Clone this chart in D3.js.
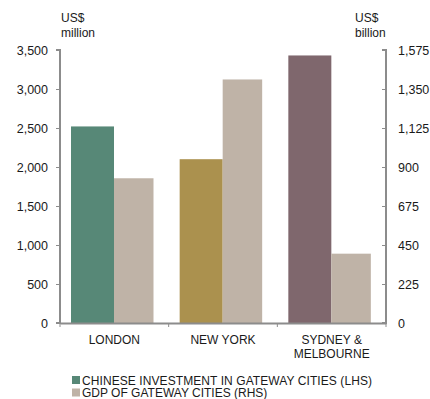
<!DOCTYPE html>
<html>
<head>
<meta charset="utf-8">
<script src="https://cdn.jsdelivr.net/npm/d3@7"></script>
<style>
  body { margin: 0; background: #fff; }
  text { font-family: "Liberation Sans", Arial, sans-serif; fill: #1a1a1a; }
</style>
</head>
<body>
<div id="chart"></div>
<script>
// data
var cities = ['LONDON', 'NEW YORK', 'SYDNEY & MELBOURNE'];
var investment = [2520, 2100, 3430];   // US$ million (LHS)
var gdp = [835, 1405, 400];            // US$ billion (RHS)
var leftTicks = [0, 500, 1000, 1500, 2000, 2500, 3000, 3500];
var rightTicks = [0, 225, 450, 675, 900, 1125, 1350, 1575];
var investColors = ['#578877', '#ab914e', '#7f676d'];
var gdpColor = '#bfb3a7';

var width = 430, height = 399;
var plotLeft = 60, plotRight = 386, plotTop = 50, plotBottom = 323;

var svg = d3.select('#chart').append('svg')
  .attr('width', width)
  .attr('height', height);

var xScale = d3.scaleBand().domain(cities).range([plotLeft, plotRight]);
var yLeft = d3.scaleLinear().domain([0, 3500]).range([plotBottom, plotTop]);
var yRight = d3.scaleLinear().domain([0, 1575]).range([plotBottom, plotTop]);

var fmt = d3.format(',');

// bars
svg.selectAll('rect.inv')
  .data(cities)
  .enter()
  .append('rect')
  .attr('class', 'inv')
  .attr('x', function (d) { return xScale(d) + 11; })
  .attr('y', function (d, i) { return yLeft(investment[i]); })
  .attr('width', 43)
  .attr('height', function (d, i) { return plotBottom - yLeft(investment[i]); })
  .style('fill', function (d, i) { return investColors[i]; });

svg.selectAll('rect.gdp')
  .data(cities)
  .enter()
  .append('rect')
  .attr('class', 'gdp')
  .attr('x', function (d) { return xScale(d) + 54; })
  .attr('y', function (d, i) { return yRight(gdp[i]); })
  .attr('width', 39.5)
  .attr('height', function (d, i) { return plotBottom - yRight(gdp[i]); })
  .style('fill', gdpColor);

// axes
var axisColor = '#8c8c8c';

var leftAxis = svg.append('g')
  .attr('transform', 'translate(' + plotLeft + ',0)')
  .call(d3.axisLeft(yLeft).tickValues(leftTicks).tickFormat(fmt).tickSize(4).tickPadding(8));

var rightAxis = svg.append('g')
  .attr('transform', 'translate(' + plotRight + ',0)')
  .call(d3.axisRight(yRight).tickValues(rightTicks).tickFormat(fmt).tickSize(4).tickPadding(8));

var xAxis = svg.append('g')
  .attr('transform', 'translate(0,' + plotBottom + ')')
  .call(d3.axisBottom(xScale).tickSize(0).tickFormat(''));

[leftAxis, rightAxis, xAxis].forEach(function (g) {
  g.select('.domain').style('stroke', axisColor).style('stroke-width', 2);
  g.selectAll('.tick line').style('stroke', axisColor);
  g.selectAll('.tick text').style('font-size', '12.5px').style('fill', '#1a1a1a')
    .style('font-family', '"Liberation Sans", Arial, sans-serif');
});
leftAxis.select('.domain').attr('d', 'M-4,' + plotTop + 'H0V' + plotBottom + 'H-4');
rightAxis.select('.domain').attr('d', 'M-4,' + plotTop + 'H0V' + plotBottom + 'H-4');
rightAxis.selectAll('.tick line').attr('x2', -4);

// category separators below the axis
svg.selectAll('line.sep')
  .data(d3.range(cities.length + 1))
  .enter()
  .append('line')
  .attr('x1', function (i) { return plotLeft + i * xScale.step(); })
  .attr('x2', function (i) { return plotLeft + i * xScale.step(); })
  .attr('y1', plotBottom)
  .attr('y2', plotBottom + 4)
  .style('stroke', axisColor);

// category labels
svg.selectAll('text.cat')
  .data(cities)
  .enter()
  .append('text')
  .attr('class', 'cat')
  .attr('y', 344)
  .style('text-anchor', 'middle')
  .style('font-size', '12px')
  .each(function (d) {
    var parts = d === 'SYDNEY & MELBOURNE' ? ['SYDNEY &', 'MELBOURNE'] : [d];
    var t = d3.select(this);
    parts.forEach(function (p, k) {
      t.append('tspan')
        .attr('x', xScale(d) + xScale.bandwidth() / 2)
        .attr('dy', k === 0 ? 0 : 14)
        .text(p);
    });
  });

// unit labels
svg.append('text').attr('x', 61).attr('y', 22).style('font-size', '12px').text('US$');
svg.append('text').attr('x', 61).attr('y', 37).style('font-size', '12px').text('million');
svg.append('text').attr('x', 355).attr('y', 22).style('font-size', '12px').text('US$');
svg.append('text').attr('x', 355).attr('y', 37).style('font-size', '12px').text('billion');

// legend
var legendItems = [
  { label: 'CHINESE INVESTMENT IN GATEWAY CITIES (LHS)', color: investColors[0] },
  { label: 'GDP OF GATEWAY CITIES (RHS)', color: gdpColor }
];
var legend = svg.selectAll('g.legend')
  .data(legendItems)
  .enter()
  .append('g')
  .attr('class', 'legend')
  .attr('transform', function (d, i) { return 'translate(72,' + (376 + i * 12.5) + ')'; });

legend.append('rect')
  .attr('width', 8)
  .attr('height', 8)
  .style('fill', function (d) { return d.color; });

legend.append('text')
  .attr('x', 10)
  .attr('y', 8.5)
  .style('font-size', '12px')
  .attr('textLength', function (d, i) { return i === 0 ? 290 : null; })
  .text(function (d) { return d.label; });
</script>
</body>
</html>
